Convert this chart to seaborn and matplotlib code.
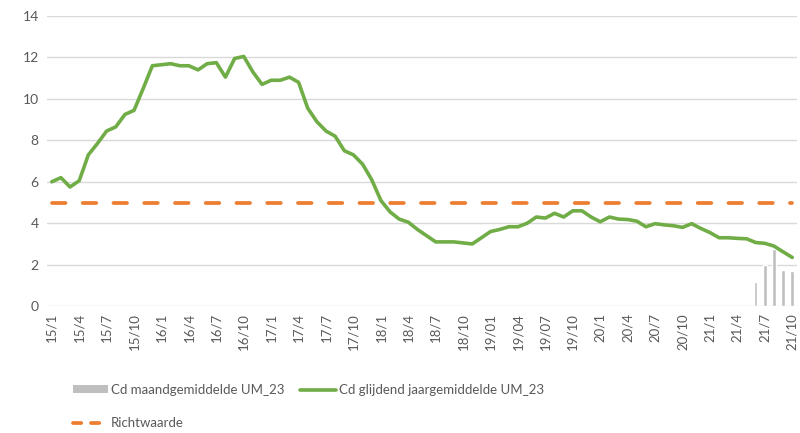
import matplotlib
matplotlib.use("Agg")
import matplotlib.pyplot as plt
import seaborn as sns
import pandas as pd
from matplotlib.patches import Patch
from matplotlib.lines import Line2D

# ---- data ----
years = ["15", "16", "17", "18", "19", "20", "21"]
months = [f"{y}/{m}" for y in years for m in range(1, 13)][:82]  # 15/1 .. 21/10

glijdend = [6.0, 6.2, 5.75, 6.05, 7.3, 7.85, 8.45, 8.65, 9.25, 9.45,
            10.5, 11.6, 11.65, 11.7, 11.6, 11.6, 11.4, 11.7, 11.75, 11.05,
            11.95, 12.05, 11.3, 10.7, 10.9, 10.9, 11.05, 10.8, 9.55, 8.9,
            8.45, 8.2, 7.5, 7.3, 6.85, 6.1, 5.1, 4.55, 4.2, 4.05,
            3.7, 3.4, 3.1, 3.1, 3.1, 3.05, 3.0, 3.3, 3.6, 3.7,
            3.83, 3.83, 4.0, 4.3, 4.25, 4.48, 4.3, 4.6, 4.6, 4.3,
            4.07, 4.3, 4.2, 4.18, 4.1, 3.83, 3.98, 3.92, 3.88, 3.8,
            3.98, 3.75, 3.55, 3.3, 3.3, 3.27, 3.25, 3.07, 3.03, 2.9,
            2.62, 2.35]

maand_months = ["21/6", "21/7", "21/8", "21/9", "21/10"]
maand_values = [1.17, 1.98, 2.74, 1.74, 1.69]

richtwaarde = 5.0

tick_labels = ["15/1", "15/4", "15/7", "15/10", "16/1", "16/4", "16/7", "16/10",
               "17/1", "17/4", "17/7", "17/10", "18/1", "18/4", "18/7", "18/10",
               "19/01", "19/04", "19/07", "19/10", "20/1", "20/4", "20/7", "20/10",
               "21/1", "21/4", "21/7", "21/10"]

label_bar = "Cd maandgemiddelde UM_23"
label_line = "Cd glijdend jaargemiddelde UM_23"
label_richt = "Richtwaarde"

# ---- styling ----
sns.set_theme(style="white")
plt.rcParams["font.family"] = ["Lato", "DejaVu Sans"]

GREEN = "#70AD47"
ORANGE = "#ED7D31"
GRAY_BAR = "#BFBFBF"
TEXT = "#595959"
GRID = "#D9D9D9"

idx = {m: i for i, m in enumerate(months)}
df_line = pd.DataFrame({"x": range(len(months)), "y": glijdend})
df_bar = pd.DataFrame({"x": [idx[m] for m in maand_months], "y": maand_values})
df_richt = pd.DataFrame({"x": range(len(months)), "y": [richtwaarde] * len(months)})

fig = plt.figure(figsize=(8.0, 4.33), dpi=100)
ax = fig.add_axes([0.059, 0.293, 0.937, 0.670])

sns.barplot(data=df_bar, x="x", y="y", native_scale=True, width=0.38,
            color=GRAY_BAR, saturation=1, ax=ax, zorder=2)
sns.lineplot(data=df_richt, x="x", y="y", color=ORANGE, lw=2.7, ax=ax,
             dashes=False, zorder=3)
ax.lines[-1].set_dashes([3.6, 4.6])
ax.lines[-1].set_dash_capstyle("round")
sns.lineplot(data=df_line, x="x", y="y", color=GREEN, lw=2.6, ax=ax, zorder=4)

ax.set_xlim(-0.5, len(months) - 0.5)
ax.set_ylim(0, 14)
ax.set_yticks(range(0, 15, 2))
ax.set_yticklabels([str(v) for v in range(0, 15, 2)], color=TEXT, fontsize=10)
ax.set_xticks(list(range(0, 82, 3)))
ax.set_xticklabels(tick_labels, rotation=90, color=TEXT, fontsize=9.5,
                   ha="center", va="top")
ax.tick_params(axis="both", length=0, pad=6)
ax.tick_params(axis="x", pad=5)
ax.set_xlabel("")
ax.set_ylabel("")
ax.yaxis.grid(True, color=GRID, lw=1.0)
ax.set_axisbelow(True)
for s in ax.spines.values():
    s.set_visible(False)

handles = [Patch(facecolor=GRAY_BAR, edgecolor="none"),
           Line2D([], [], color=ORANGE, lw=2.7, dashes=[2.2, 2.6],
                  dash_capstyle="round"),
           Line2D([], [], color=GREEN, lw=2.6)]
labels = [label_bar, label_richt, label_line]
leg = fig.legend(handles, labels, ncol=2, loc="upper left",
                 bbox_to_anchor=(0.091, 0.113), frameon=False,
                 fontsize=9.5, handlelength=2.7, handleheight=0.55,
                 handletextpad=0.2, columnspacing=1.2, labelspacing=1.6,
                 borderaxespad=0, borderpad=0)
for t in leg.get_texts():
    t.set_color(TEXT)

fig.savefig("out.png", dpi=100)
